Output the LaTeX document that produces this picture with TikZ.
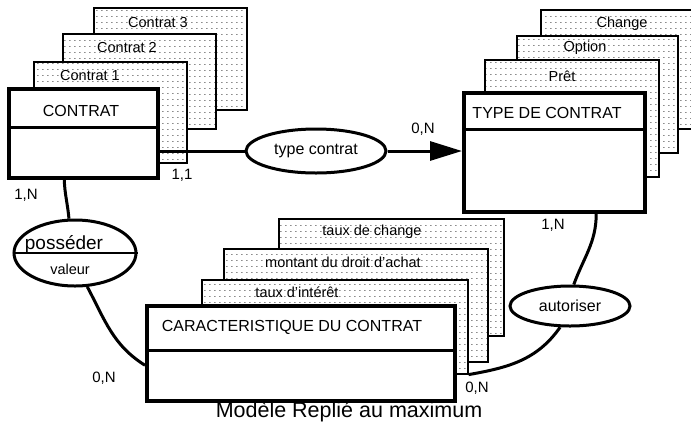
\documentclass[tikz,border=0pt]{standalone}
\usepackage{fontspec}
\setmainfont{Liberation Sans}
\usetikzlibrary{patterns.meta,arrows.meta,shapes.geometric,calc}

\tikzdeclarepattern{
  name=erdots, type=uncolored,
  bounding box={(0pt,0pt) and (5.4pt,5.8pt)},
  tile size={(5.4pt,5.8pt)},
  code={\fill (0pt,0pt) rectangle (1.8pt,1pt);}
}

\begin{document}
\begin{tikzpicture}[x=1pt,y=-1pt,
  stackbox/.style={draw, line width=1.6pt, rectangle, anchor=north west, inner sep=0pt,
    preaction={fill=white}, pattern=erdots, pattern color=black!45},
  mainbox/.style={draw, line width=3.5pt, fill=white, rectangle, anchor=north west, inner sep=0pt},
  relation/.style={draw, ellipse, line width=3pt, fill=white, inner sep=0pt},
  link/.style={line width=3pt},
  divider/.style={line width=3pt},
  sublbl/.style={font=\fontsize{14.5}{17}\selectfont, inner sep=0pt},
  mainlbl/.style={font=\fontsize{16}{19}\selectfont, inner sep=0pt},
  card/.style={font=\fontsize{15}{18}\selectfont, inner sep=0pt},
]
\useasboundingbox (0,0) rectangle (691,432);
\clip (0,0) rectangle (691,432);

% ---- CONTRAT stack ----
\node[stackbox, minimum width=153pt, minimum height=102pt] (c3) at (93,7) {};
\node[sublbl] (c3t) at (158,23) {Contrat 3};
\node[stackbox, minimum width=153pt, minimum height=95pt] (c2) at (62,33) {};
\node[sublbl] (c2t) at (127,48) {Contrat 2};
\node[stackbox, minimum width=153pt, minimum height=101pt] (c1) at (33,61) {};
\node[sublbl] (c1t) at (90,76) {Contrat 1};

% ---- TYPE stack ----
\node[stackbox, minimum width=160pt, minimum height=119pt] (tch) at (540,9) {};
\node[sublbl] (tcht) at (622,24) {Change};
\node[stackbox, minimum width=161pt, minimum height=117pt] (top) at (516,35) {};
\node[sublbl] (topt) at (585,48) {Option};
\node[stackbox, minimum width=174pt, minimum height=117pt] (tpr) at (484,59) {};
\node[sublbl] (tprt) at (562,76) {Prêt};

% ---- CARACTERISTIQUE stack ----
\node[stackbox, minimum width=225pt, minimum height=117pt] (k3) at (278,218) {};
\node[sublbl] (k3t) at (372,232) {taux de change};
\node[stackbox, minimum width=264pt, minimum height=113pt] (k2) at (223,248) {};
\node[sublbl] (k2t) at (343,262) {montant du droit d'achat};
\node[stackbox, minimum width=266pt, minimum height=94pt] (k1) at (201,279) {};
\node[sublbl] (k1t) at (297,292) {taux d'intérêt};

% ---- main entities ----
\node[mainbox, minimum width=149pt, minimum height=89pt] (contrat) at (7,87) {};
\draw[divider] (contrat.west |- 0,127) -- (contrat.east |- 0,127);
\node[mainlbl] (contratt) at (81,111) {CONTRAT};

\node[mainbox, minimum width=181pt, minimum height=119pt] (type) at (462,91) {};
\draw[divider] (type.west |- 0,129) -- (type.east |- 0,129);
\node[mainlbl] (typet) at (547,113) {TYPE DE CONTRAT};

\node[mainbox, minimum width=308pt, minimum height=95pt] (carac) at (145,304) {};
\draw[divider] (carac.west |- 0,350) -- (carac.east |- 0,350);
\node[mainlbl] (caract) at (292,327) {CARACTERISTIQUE DU CONTRAT};

% ---- relations ----
\node[relation, minimum width=140pt, minimum height=44pt] (tc) at (316,151) {};
\node[mainlbl] (tct) at (316,151) {type contrat};

\node[relation, minimum width=120pt, minimum height=40pt] (aut) at (570,306) {};
\node[mainlbl] (autt) at (570,306) {autoriser};

\node[relation, minimum width=122pt, minimum height=66pt] (pos) at (75,253) {};
\draw[line width=1.6pt] (pos.west) -- (pos.east);
\node[font=\fontsize{19}{22}\selectfont, inner sep=0pt] (post) at (64,244) {posséder};
\node[sublbl] (posv) at (70,269) {valeur};

% ---- connectors ----
\draw[link] (contrat.east |- tc.west) -- (tc.west);
\draw[link, -{Triangle[length=32pt,width=19pt]}] (tc.east) -- (type.west |- tc.east);

\draw[link] ([xshift=-19pt]contrat.south) to[out=-88, in=95] (pos.100);
\draw[link] (pos.-70) to[out=-62, in=148] ([yshift=-12pt]carac.west);

\draw[link] ([xshift=42pt]type.south) to[out=-90, in=70] (aut.80);
\draw[link] (aut.-115) to[out=-125, in=10] (k1.south east);

% ---- cardinalities ----
\node[card] (card1) at (182,175) {1,1};
\node[card] (card2) at (423,129) {0,N};
\node[card] (card3) at (26,195) {1,N};
\node[card] (card4) at (104,378) {0,N};
\node[card] (card5) at (553,225) {1,N};
\node[card] (card6) at (477,388) {0,N};

\node[font=\fontsize{21.5}{25}\selectfont, inner sep=0pt] (title) at (349,412) {Modèle Replié au maximum};
\end{tikzpicture}
\end{document}
